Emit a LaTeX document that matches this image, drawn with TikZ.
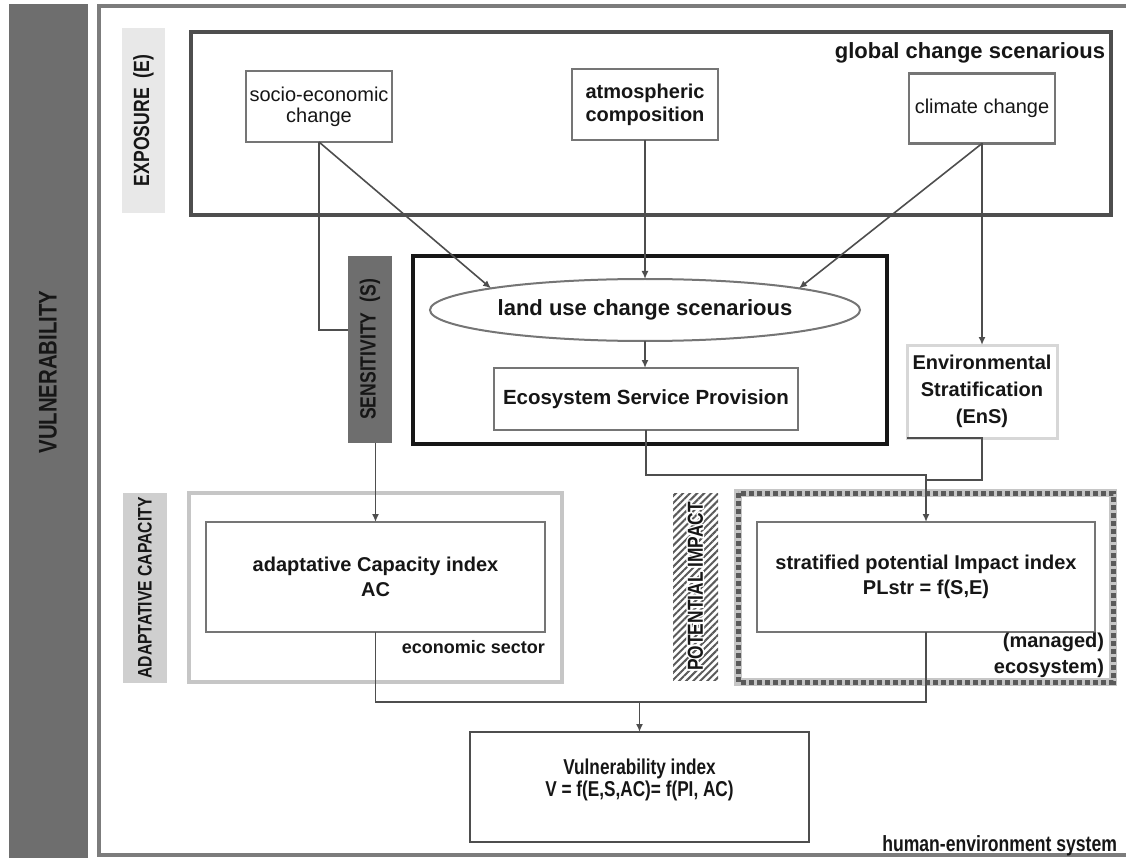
\documentclass[tikz,border=0pt]{standalone}
\usepackage{fontspec}
\setmainfont{Liberation Sans}
\newfontfamily\narrowfont[FakeStretch=0.8]{Liberation Sans}
\usetikzlibrary{arrows.meta,patterns.meta,shapes.geometric,calc}
\definecolor{ink}{HTML}{161616}
\definecolor{linegray}{HTML}{4E4E4E}
\definecolor{boxgray}{HTML}{757575}
\definecolor{bargray}{HTML}{6E6E6E}
\definecolor{framegray}{HTML}{7C7C7C}
\definecolor{labellight}{HTML}{E8E8E8}
\definecolor{labelmid}{HTML}{CFCFCF}
\definecolor{softgray}{HTML}{C6C6C6}
\definecolor{hatchgray}{HTML}{5A5A5A}
\begin{document}
\begin{tikzpicture}[x=1pt,y=-1pt,
  every node/.style={inner sep=0pt,outer sep=0pt,text=ink},
  ln/.style={draw=linegray,line width=1.6pt},
  arr/.style={ln,-{Latex[length=8pt,width=7pt]}},
  topbox/.style={draw=boxgray,line width=2.4pt,fill=white,align=center},
  idxbox/.style={draw=boxgray,line width=2pt,fill=white,align=center},
  vlabel/.style={rotate=90,font=\narrowfont\bfseries\fontsize{22}{22}\selectfont},
]
\useasboundingbox (0,0) rectangle (1126,858);
\fill[white] (0,0) rectangle (1126,858);

% vulnerability side bar
\node[fill=bargray,minimum width=79pt,minimum height=855pt] (vulbar) at (48.5,431.5) {};
\node[rotate=90,font=\narrowfont\bfseries\fontsize{25.5}{25.5}\selectfont] (vultxt) at (48,372) {VULNERABILITY};

% human-environment system frame
\draw[framegray,line width=3.5pt] (99,6) rectangle (1132,855);
\node[anchor=east,font=\narrowfont\bfseries\fontsize{22}{22}\selectfont] (hes) at (1117,846) {human-environment system};

% exposure
\node[fill=labellight,minimum width=43pt,minimum height=185pt] (explab) at (143.5,120.5) {};
\node[vlabel] (exptxt) at (explab.center) {EXPOSURE\ \ (E)};
\node[draw=linegray,line width=3.5pt,minimum width=920pt,minimum height=183pt] (expbox) at (651,123.5) {};
\node[anchor=east,font=\bfseries\fontsize{22}{22}\selectfont] (gcs) at (1105,53) {global change scenarious};
\node[topbox,minimum width=146pt,minimum height=71pt,font=\fontsize{20}{21}\selectfont] (socio) at (319,106.5) {socio-economic\\change};
\node[topbox,minimum width=146pt,minimum height=71pt,font=\bfseries\fontsize{20}{23}\selectfont] (atm) at (645,104.5) {atmospheric\\composition};
\node[topbox,minimum width=146pt,minimum height=70pt,font=\fontsize{20}{21}\selectfont] (clim) at (982,108.5) {climate change};

% land use core
\node[draw=ink,line width=4pt,minimum width=474pt,minimum height=188pt] (core) at (650,350) {};
\node[ellipse,draw=boxgray,line width=2pt,fill=white,minimum width=430pt,minimum height=62pt,font=\bfseries\fontsize{22}{22}\selectfont] (lu) at (645,310) {land use change scenarious};
\node[draw=boxgray,line width=1.6pt,fill=white,minimum width=304pt,minimum height=62pt,font=\bfseries\fontsize{20.5}{20.5}\selectfont] (esp) at (646,399) {Ecosystem Service Provision};

% sensitivity
\node[fill=bargray,minimum width=44pt,minimum height=187pt] (sens) at (370,349.5) {};
\node[vlabel] (senstxt) at (sens.center) {SENSITIVITY\ \ (S)};
\coordinate (sj) at (348,330);

% environmental stratification
\node[draw=softgray!70,line width=3pt,fill=white,minimum width=150pt,minimum height=93pt,align=center,font=\bfseries\fontsize{20}{27}\selectfont] (ens) at (982,391.5) {Environmental\\Stratification\\(EnS)};

% adaptive capacity
\node[fill=labelmid,minimum width=44pt,minimum height=190pt] (aclab) at (145,588) {};
\node[vlabel,font=\narrowfont\bfseries\fontsize{19.6}{19.6}\selectfont] (actxt) at (aclab.center) {ADAPTATIVE CAPACITY};
\node[draw=softgray,line width=4pt,minimum width=373pt,minimum height=189pt] (acout) at (375.5,587.5) {};
\node[idxbox,minimum width=339pt,minimum height=110pt,font=\bfseries\fontsize{20}{25}\selectfont] (acx) at (375.5,577) {adaptative Capacity index\\AC};
\node[anchor=east,font=\bfseries\fontsize{18}{18}\selectfont] (econ) at (545,647) {economic sector};

% potential impact
\node[pattern={Lines[angle=45,distance=5pt,line width=2pt]},pattern color=hatchgray,minimum width=45pt,minimum height=187pt] (pilab) at (695.5,586.5) {};
\foreach \dx/\dy [count=\i] in {1.5/0,-1.5/0,0/1.5,0/-1.5,1.1/1.1,-1.1/1.1,1.1/-1.1,-1.1/-1.1}
  \node[vlabel,font=\narrowfont\bfseries\fontsize{21.7}{21.7}\selectfont,text=white] (pihalo\i) at ($(pilab.center)+(\dx,\dy)$) {POTENTIAL IMPACT};
\node[vlabel,font=\narrowfont\bfseries\fontsize{21.7}{21.7}\selectfont] (pitxt) at (pilab.center) {POTENTIAL IMPACT};
\node[draw=softgray,line width=8pt,minimum width=375pt,minimum height=189pt] (piout) at (925.5,587.5) {};
\draw[hatchgray,line width=5pt,dash pattern=on 5pt off 3pt] (piout.north west) rectangle (piout.south east);
\node[idxbox,minimum width=338pt,minimum height=110pt,font=\bfseries\fontsize{20}{25}\selectfont] (pix) at (926,577) {stratified potential Impact index\\PLstr = f(S,E)};
\node[anchor=east,align=right,font=\bfseries\fontsize{20}{26}\selectfont] (managed) at (1104,655) {(managed)\\ecosystem)};

% vulnerability index
\node[draw=linegray,line width=2pt,fill=white,minimum width=339pt,minimum height=110pt] (vx) at (639.5,787) {};
\node[align=center,font=\narrowfont\bfseries\fontsize{21.5}{22}\selectfont] (vxtxt) at (639.5,780) {Vulnerability index\\V = f(E,S,AC)= f(PI, AC)};

% connectors
\draw[arr] (atm.south) -- (lu.north);
\draw[arr] (socio.south) -- (lu.172);
\draw[arr] (clim.south) -- (lu.8);
\draw[ln] (socio.south) |- (sj);
\draw[arr] (clim.south) -- (clim.south |- ens.north);
\draw[arr] (lu.south) -- (lu.south |- esp.north);
\draw[arr] (sens.south -| acx.north) -- (acx.north);
\coordinate (pj) at ($(pix.north)+(0,-47)$);
\coordinate (pk) at ($(pix.north)+(0,-42)$);
\draw[arr] (esp.south) |- (pj) -- (pix.north);
\draw[ln] (ens.south west) -- (ens.south) |- (pk);
\coordinate (vj) at ($(vx.north)+(0,-30)$);
\draw[arr] (acx.south) |- (vj) -- (vx.north);
\draw[ln] (pix.south) |- (vj);
\end{tikzpicture}
\end{document}
